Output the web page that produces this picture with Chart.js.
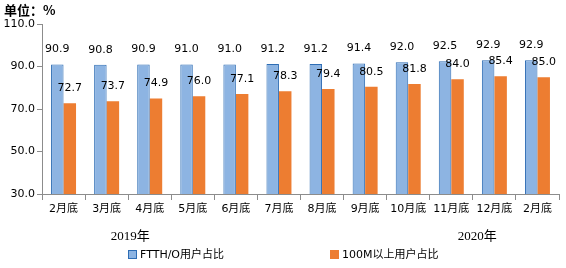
<!DOCTYPE html>
<html><head><meta charset="utf-8">
<script src="https://cdn.jsdelivr.net/npm/chart.js@4"></script>
<style>html,body{margin:0;padding:0;background:#fff}#c{display:block}</style>
</head><body>
<div style="width:566px;height:268px"><canvas id="c" width="566" height="268"></canvas></div>
<script>
const categories = ['2月底','3月底','4月底','5月底','6月底','7月底','8月底','9月底','10月底','11月底','12月底','2月底'];
const ftthValues = [90.9,90.8,90.9,91.0,91.0,91.2,91.2,91.4,92.0,92.5,92.9,92.9];
const m100Values = [72.7,73.7,74.9,76.0,77.1,78.3,79.4,80.5,81.8,84.0,85.4,85.0];
const seriesNames = ['FTTH/O用户占比','100M以上用户占比'];
const yearLabels = [{text:'2019年', from:0, to:3.1}, {text:'2020年', from:8, to:11.2}];
const unitTitle = '单位：%';

const numFont = '11px "DejaVu Sans", sans-serif';
const cjkFont = '11px "DejaVu Sans", "Noto Sans CJK SC", sans-serif';
const axisColor = '#8c8c8c';

const extras = {
  id: 'extras',
  afterDatasetsDraw(chart) {
    const ctx = chart.ctx;
    ctx.save();
    ctx.fillStyle = '#000';
    ctx.font = numFont;
    ctx.textAlign = 'center';
    ctx.textBaseline = 'middle';
    chart.data.datasets.forEach((ds, di) => {
      chart.getDatasetMeta(di).data.forEach((bar, i) => {
        ctx.fillText(ds.data[i].toFixed(1), bar.x, bar.y - 15);
      });
    });
    ctx.restore();
  },
  afterDraw(chart) {
    const ctx = chart.ctx;
    const x = chart.scales.x;
    ctx.save();
    ctx.fillStyle = '#000';
    ctx.font = 'bold 13px "Noto Sans CJK SC", sans-serif';
    ctx.textAlign = 'left';
    ctx.textBaseline = 'middle';
    ctx.fillText(unitTitle, 4, 10);
    ctx.font = '13px "Liberation Serif", "Noto Sans CJK SC", serif';
    ctx.textAlign = 'center';
    yearLabels.forEach(y => {
      const cx = (x.getPixelForValue(y.from) + x.getPixelForValue(y.to)) / 2;
      ctx.fillText(y.text, cx, 237);
    });
    ctx.font = cjkFont;
    ctx.textAlign = 'left';
    const items = [
      {x:128, fill:'#8DB4E2', stroke:'#2E6DB4', label: seriesNames[0]},
      {x:330, fill:'#ED7D31', stroke:'#ED7D31', label: seriesNames[1]}
    ];
    items.forEach(it => {
      ctx.fillStyle = it.fill;
      ctx.fillRect(it.x, 250, 9, 9);
      ctx.strokeStyle = it.stroke;
      ctx.lineWidth = 1;
      ctx.strokeRect(it.x + 0.5, 250.5, 8, 8);
      ctx.fillStyle = '#000';
      ctx.fillText(it.label, it.x + 12, 255);
    });
    ctx.restore();
  }
};

new Chart(document.getElementById('c'), {
  type: 'bar',
  data: {
    labels: categories,
    datasets: [
      {label: seriesNames[0], data: ftthValues, backgroundColor: '#8DB4E2', borderColor: '#2E6DB4', borderWidth: 1, categoryPercentage: 0.58, barPercentage: 1},
      {label: seriesNames[1], data: m100Values, backgroundColor: '#ED7D31', borderWidth: 0, categoryPercentage: 0.58, barPercentage: 1}
    ]
  },
  options: {
    responsive: false,
    animation: false,
    devicePixelRatio: 1,
    layout: {padding: {left: 0, right: 7, top: 24, bottom: 50}},
    plugins: {legend: {display: false}, tooltip: {enabled: false}},
    scales: {
      x: {
        grid: {offset: true, drawOnChartArea: false, drawTicks: true, tickLength: 6, color: axisColor},
        border: {color: axisColor},
        ticks: {font: {family: '"DejaVu Sans", "Noto Sans CJK SC", sans-serif', size: 11}, color: '#000', padding: 3, maxRotation: 0, autoSkip: false},
        afterFit(s) { s.height = 24; }
      },
      y: {
        min: 30, max: 110,
        grid: {drawOnChartArea: false, drawTicks: true, tickLength: 5, color: axisColor},
        border: {color: axisColor},
        ticks: {stepSize: 20, font: {family: '"DejaVu Sans", sans-serif', size: 11}, color: '#000', padding: 2, callback: v => v.toFixed(1)},
        afterFit(s) { s.width = 42; }
      }
    }
  },
  plugins: [extras]
});
</script>
</body></html>
